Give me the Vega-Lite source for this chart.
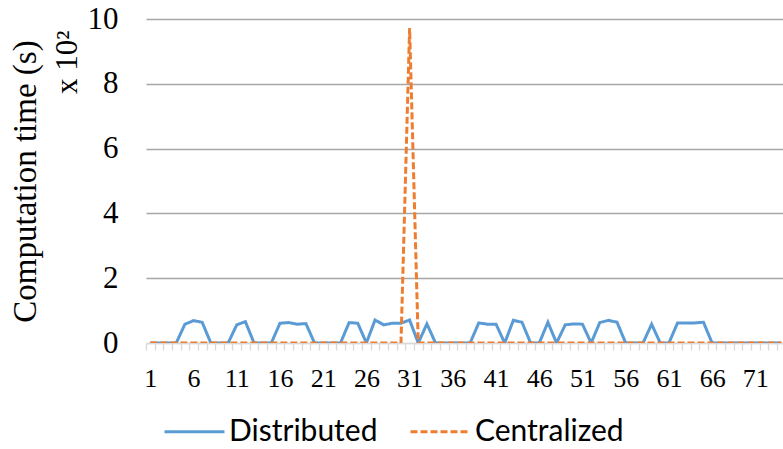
{
  "$schema": "https://vega.github.io/schema/vega-lite/v6.json",
  "width": 637,
  "height": 324,
  "autosize": {"type": "none"},
  "padding": {"left": 146, "top": 19, "right": 0, "bottom": 106},
  "background": "white",
  "config": {"view": {"stroke": null}, "font": "Liberation Serif"},
  "data": {
    "values": [
      {"t": 1, "Distributed": 0, "Centralized": 0},
      {"t": 2, "Distributed": 0, "Centralized": 0},
      {"t": 3, "Distributed": 0, "Centralized": 0},
      {"t": 4, "Distributed": 0, "Centralized": 0},
      {"t": 5, "Distributed": 0.58, "Centralized": 0},
      {"t": 6, "Distributed": 0.69, "Centralized": 0},
      {"t": 7, "Distributed": 0.64, "Centralized": 0},
      {"t": 8, "Distributed": 0, "Centralized": 0},
      {"t": 9, "Distributed": 0, "Centralized": 0},
      {"t": 10, "Distributed": 0, "Centralized": 0},
      {"t": 11, "Distributed": 0.56, "Centralized": 0},
      {"t": 12, "Distributed": 0.66, "Centralized": 0},
      {"t": 13, "Distributed": 0, "Centralized": 0},
      {"t": 14, "Distributed": 0, "Centralized": 0},
      {"t": 15, "Distributed": 0, "Centralized": 0},
      {"t": 16, "Distributed": 0.61, "Centralized": 0},
      {"t": 17, "Distributed": 0.63, "Centralized": 0},
      {"t": 18, "Distributed": 0.58, "Centralized": 0},
      {"t": 19, "Distributed": 0.6, "Centralized": 0},
      {"t": 20, "Distributed": 0, "Centralized": 0},
      {"t": 21, "Distributed": 0, "Centralized": 0},
      {"t": 22, "Distributed": 0, "Centralized": 0},
      {"t": 23, "Distributed": 0, "Centralized": 0},
      {"t": 24, "Distributed": 0.63, "Centralized": 0},
      {"t": 25, "Distributed": 0.61, "Centralized": 0},
      {"t": 26, "Distributed": 0, "Centralized": 0},
      {"t": 27, "Distributed": 0.71, "Centralized": 0},
      {"t": 28, "Distributed": 0.56, "Centralized": 0},
      {"t": 29, "Distributed": 0.61, "Centralized": 0},
      {"t": 30, "Distributed": 0.61, "Centralized": 0},
      {"t": 31, "Distributed": 0.71, "Centralized": 9.72},
      {"t": 32, "Distributed": 0, "Centralized": 0},
      {"t": 33, "Distributed": 0.59, "Centralized": 0},
      {"t": 34, "Distributed": 0, "Centralized": 0},
      {"t": 35, "Distributed": 0, "Centralized": 0},
      {"t": 36, "Distributed": 0, "Centralized": 0},
      {"t": 37, "Distributed": 0, "Centralized": 0},
      {"t": 38, "Distributed": 0, "Centralized": 0},
      {"t": 39, "Distributed": 0.62, "Centralized": 0},
      {"t": 40, "Distributed": 0.58, "Centralized": 0},
      {"t": 41, "Distributed": 0.58, "Centralized": 0},
      {"t": 42, "Distributed": 0, "Centralized": 0},
      {"t": 43, "Distributed": 0.7, "Centralized": 0},
      {"t": 44, "Distributed": 0.64, "Centralized": 0},
      {"t": 45, "Distributed": 0, "Centralized": 0},
      {"t": 46, "Distributed": 0, "Centralized": 0},
      {"t": 47, "Distributed": 0.64, "Centralized": 0},
      {"t": 48, "Distributed": 0, "Centralized": 0},
      {"t": 49, "Distributed": 0.56, "Centralized": 0},
      {"t": 50, "Distributed": 0.59, "Centralized": 0},
      {"t": 51, "Distributed": 0.58, "Centralized": 0},
      {"t": 52, "Distributed": 0, "Centralized": 0},
      {"t": 53, "Distributed": 0.63, "Centralized": 0},
      {"t": 54, "Distributed": 0.7, "Centralized": 0},
      {"t": 55, "Distributed": 0.64, "Centralized": 0},
      {"t": 56, "Distributed": 0, "Centralized": 0},
      {"t": 57, "Distributed": 0, "Centralized": 0},
      {"t": 58, "Distributed": 0, "Centralized": 0},
      {"t": 59, "Distributed": 0.58, "Centralized": 0},
      {"t": 60, "Distributed": 0, "Centralized": 0},
      {"t": 61, "Distributed": 0, "Centralized": 0},
      {"t": 62, "Distributed": 0.62, "Centralized": 0},
      {"t": 63, "Distributed": 0.62, "Centralized": 0},
      {"t": 64, "Distributed": 0.62, "Centralized": 0},
      {"t": 65, "Distributed": 0.64, "Centralized": 0},
      {"t": 66, "Distributed": 0, "Centralized": 0},
      {"t": 67, "Distributed": 0, "Centralized": 0},
      {"t": 68, "Distributed": 0, "Centralized": 0},
      {"t": 69, "Distributed": 0, "Centralized": 0},
      {"t": 70, "Distributed": 0, "Centralized": 0},
      {"t": 71, "Distributed": 0, "Centralized": 0},
      {"t": 72, "Distributed": 0, "Centralized": 0},
      {"t": 73, "Distributed": 0, "Centralized": 0},
      {"t": 74, "Distributed": 0, "Centralized": 0}
    ]
  },
  "transform": [{"fold": ["Distributed", "Centralized"], "as": ["series", "value"]}],
  "encoding": {
    "x": {
      "field": "t",
      "type": "quantitative",
      "scale": {"domain": [0.5, 74.2], "nice": false, "zero": false},
      "axis": {
        "title": null,
        "values": [1,2,3,4,5,6,7,8,9,10,11,12,13,14,15,16,17,18,19,20,21,22,23,24,25,26,27,28,29,30,31,32,33,34,35,36,37,38,39,40,41,42,43,44,45,46,47,48,49,50,51,52,53,54,55,56,57,58,59,60,61,62,63,64,65,66,67,68,69,70,71,72,73,74],
        "tickOffset": -4.32,
        "labelOffset": 4.32,
        "labelExpr": "(datum.value - 1) % 5 === 0 ? datum.label : ''",
        "labelOverlap": false,
        "labelFlush": false,
        "tickSize": 7,
        "tickWidth": 1.3,
        "tickColor": "#d9d9d9",
        "domainColor": "#d9d9d9",
        "domainWidth": 1.3,
        "grid": false,
        "labelFont": "Liberation Serif",
        "labelFontSize": 26,
        "labelColor": "black",
        "labelPadding": 15
      }
    },
    "color": {
      "field": "series",
      "type": "nominal",
      "scale": {"domain": ["Distributed", "Centralized"], "range": ["#5b9bd5", "#ed7d31"]},
      "legend": {
        "title": null,
        "orient": "none",
        "direction": "horizontal",
        "legendX": 17,
        "legendY": 381,
        "symbolType": "stroke",
        "symbolSize": 3600,
        "symbolStrokeWidth": 3,
        "labelFont": "Lato",
        "labelFontSize": 30,
        "labelColor": "black",
        "labelOffset": 3,
        "columnPadding": 26
      }
    },
    "strokeDash": {
      "field": "series",
      "type": "nominal",
      "scale": {"domain": ["Distributed", "Centralized"], "range": [[1, 0], [7, 3]]},
      "legend": null
    }
  },
  "layer": [
    {
      "encoding": {
        "y": {
          "field": "value",
          "type": "quantitative",
          "scale": {"domain": [0, 10], "nice": false},
          "axis": {
            "orient": "left",
            "values": [0, 2, 4, 6, 8, 10],
            "title": "x 10²",
            "titleAnchor": "end",
            "titleY": 11,
            "titleFont": "Liberation Serif",
            "titleFontSize": 31,
            "titleFontWeight": "normal",
            "titleColor": "black",
            "titlePadding": 4,
            "domain": false,
            "ticks": false,
            "tickSize": 0,
            "labelFont": "Liberation Serif",
            "labelFontSize": 31,
            "labelColor": "black",
            "labelPadding": 28,
            "grid": true,
            "gridWidth": 1.3,
            "gridColor": {"condition": {"test": "datum.value === 0", "value": "#d9d9d9"}, "value": "#a6a6a6"}
          }
        }
      },
      "layer": [
        {
          "transform": [{"filter": "datum.series === 'Distributed'"}],
          "mark": {"type": "line", "strokeWidth": 3, "clip": true}
        },
        {
          "transform": [{"filter": "datum.series === 'Centralized'"}],
          "mark": {"type": "line", "strokeWidth": 3, "clip": true}
        }
      ]
    },
    {
      "mark": {"type": "line", "opacity": 0},
      "encoding": {
        "y": {
          "field": "value",
          "type": "quantitative",
          "axis": {
            "orient": "left",
            "title": "Computation time (s)",
            "titleFont": "Liberation Serif",
            "titleFontSize": 33,
            "titleFontWeight": "normal",
            "titleColor": "black",
            "titlePadding": 104,
            "labels": false,
            "ticks": false,
            "domain": false,
            "grid": false
          }
        }
      }
    }
  ],
  "resolve": {"axis": {"y": "independent"}}
}
